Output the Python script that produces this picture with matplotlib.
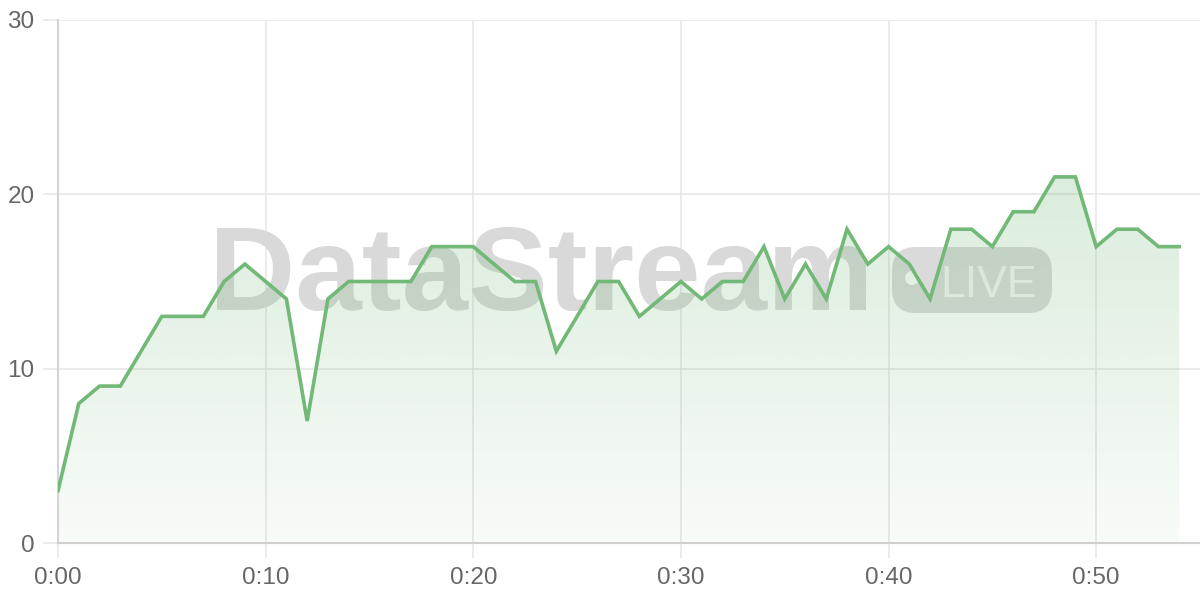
import matplotlib.pyplot as plt
import matplotlib.transforms as mtransforms
from matplotlib.patches import FancyBboxPatch, Circle
import numpy as np

# minutes since start and the value per minute
minutes = list(range(55))
values = [3, 8, 9, 9, 11, 13, 13, 13, 15, 16, 15, 14, 7, 14, 15, 15, 15, 15, 17, 17,
          17, 16, 15, 15, 11, 13, 15, 15, 13, 14, 15, 14, 15, 15, 17, 14, 16, 14, 18, 16,
          17, 16, 14, 18, 18, 17, 19, 19, 21, 21, 17, 18, 18, 17, 17]
xticks = [0, 10, 20, 30, 40, 50]
xlabels = ['0:00', '0:10', '0:20', '0:30', '0:40', '0:50']
yticks = [0, 10, 20, 30]

line_col = '#72b877'
grid_col = '#e8e8e8'
text_col = '#666666'

plt.rcParams['font.family'] = ['Liberation Sans', 'DejaVu Sans']

fig = plt.figure(figsize=(12, 6), dpi=100)
ax = fig.add_axes([58 / 1200, 57 / 600, 1142 / 1200, 523 / 600])
ax.set_xlim(0, 55)
ax.set_ylim(0, 30)

# watermark, behind the data
ax.text(0.132, 0.446, 'DataStream', transform=ax.transAxes, fontsize=86,
        fontweight='bold', color='#d9d9d9', va='baseline', ha='left', zorder=1)
pix = mtransforms.IdentityTransform()
pill = FancyBboxPatch((892, 287), 160, 66, boxstyle='round,pad=0,rounding_size=24',
                      transform=pix, facecolor='#dadada', edgecolor='none', zorder=1)
ax.add_artist(pill)
ax.add_artist(Circle((912, 322), 7, transform=pix, facecolor='white',
                     edgecolor='none', zorder=1.1))
ax.text(940, 303, 'LIVE', transform=pix, fontsize=32, color='white', alpha=0.75,
        va='baseline', ha='left', zorder=1.1)

# gradient fill under the line
x = np.array(minutes)
y = np.array(values)
poly = ax.fill_between(x, y, 0, color='none', zorder=2)
grad = np.linspace(0.26, 0.05, 256).reshape(-1, 1)
rgba = np.zeros((256, 1, 4))
rgba[..., 0] = 0x72 / 255
rgba[..., 1] = 0xb8 / 255
rgba[..., 2] = 0x77 / 255
rgba[..., 3] = grad
img = ax.imshow(rgba, extent=[0, 55, 0, 21], origin='upper', aspect='auto', zorder=2)
path = poly.get_paths()[0]
img.set_clip_path(path, transform=ax.transData)
ax.set_xlim(0, 55)
ax.set_ylim(0, 30)

ax.plot(x, y, color=line_col, linewidth=2.6, zorder=3, solid_joinstyle='miter')

ax.set_xticks(xticks)
ax.set_xticklabels(xlabels)
ax.set_yticks(yticks)
ax.grid(True, color=grid_col, linewidth=1.2, zorder=0)
ax.set_axisbelow(True)
ax.tick_params(axis='both', length=11, width=1.2, color=grid_col, labelcolor=text_col,
               labelsize=17.5, pad=6)
for side in ['top', 'right']:
    ax.spines[side].set_visible(False)
ax.spines['left'].set_color('#d4d4d4')
ax.spines['left'].set_linewidth(1.5)
ax.spines['bottom'].set_color('#d0d0d0')
ax.spines['bottom'].set_linewidth(1.5)

fig.savefig('out.png', dpi=100)
